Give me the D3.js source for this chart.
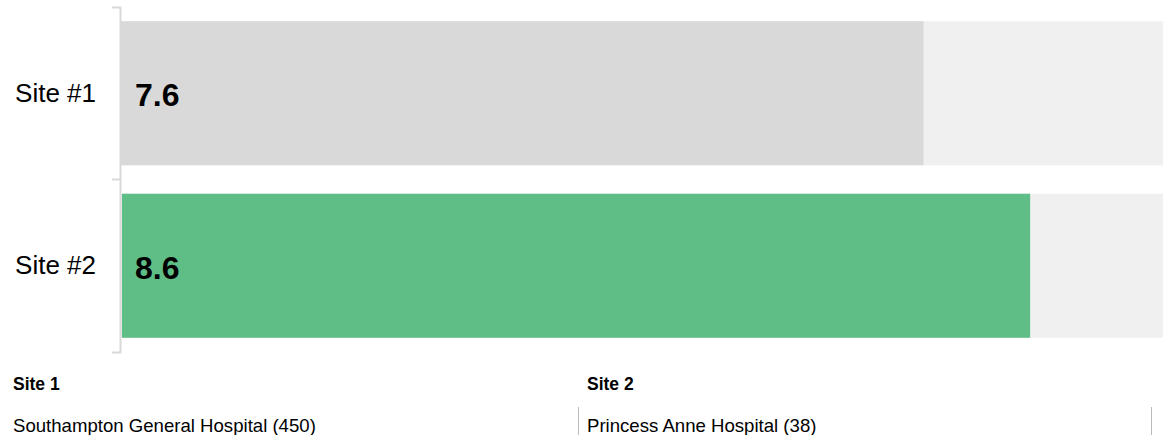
<!DOCTYPE html>
<html>
<head>
<meta charset="utf-8">
<script src="https://cdn.jsdelivr.net/npm/d3@7"></script>
<style>
  body { margin: 0; background: #fff; overflow: hidden; }
  svg { display: block; font-family: "Liberation Sans", Arial, sans-serif; }
</style>
</head>
<body>
<div id="chart"></div>
<script>
// data
var sites = ["Site #1", "Site #2"];
var scores = [7.6, 8.6];
var maxScore = 10;
var siteTitles = ["Site 1", "Site 2"];
var siteNames = ["Southampton General Hospital (450)", "Princess Anne Hospital (38)"];

var W = 1163, H = 435;
var left = 121;

var svg = d3.select("#chart")
  .append("svg")
    .attr("width", W)
    .attr("height", H);

var y = d3.scaleBand()
  .domain(sites)
  .range([7, 352])
  .paddingInner(0.165)
  .paddingOuter(0.0825);

var x = d3.scaleLinear()
  .domain([0, maxScore])
  .range([left, left + 1056]);

// background track
svg.append("g")
  .selectAll("rect")
  .data(sites)
  .enter()
  .append("rect")
    .attr("x", x(0))
    .attr("y", function(d) { return y(d); })
    .attr("width", x(maxScore) - x(0))
    .attr("height", y.bandwidth())
    .style("fill", "#f0f0f0");

// value bars
svg.append("g")
  .selectAll("rect")
  .data(scores)
  .enter()
  .append("rect")
    .attr("x", function(d, i) { return x(0) + (i == 1 ? 1 : 0); })
    .attr("y", function(d, i) { return y(sites[i]); })
    .attr("width", function(d) { return x(d) - x(0); })
    .attr("height", y.bandwidth())
    .style("fill", function(d, i) { return i == 1 ? "#5fbe85" : "#d9d9d9"; });

// value labels
svg.append("g")
  .selectAll("text")
  .data(scores)
  .enter()
  .append("text")
    .text(function(d) { return d.toFixed(1); })
    .attr("x", x(0) + 14)
    .attr("y", function(d, i) { return y(sites[i]) + y.bandwidth() / 2; })
    .attr("dy", "0.4em")
    .style("font-size", "32px")
    .style("font-weight", "bold")
    .style("fill", "#000");

// left axis
var axis = svg.append("g")
  .attr("transform", "translate(" + (left - 1) + ",0)")
  .call(d3.axisLeft(y).tickSize(0).tickSizeOuter(8).tickPadding(24));

axis.select(".domain")
  .style("stroke", "#d9d9d9")
  .style("stroke-width", 2);
axis.selectAll("text")
  .style("font-size", "26px")
  .style("fill", "#000")
  .attr("font-family", null);

// tick between the two sites
var mid = y(sites[1]) - y.step() * y.paddingInner() / 2;
axis.append("line")
  .attr("x1", -8)
  .attr("x2", 0)
  .attr("y1", mid)
  .attr("y2", mid)
  .style("stroke", "#d9d9d9")
  .style("stroke-width", 2);

// site key below
var colX = [13, 587];
var key = svg.append("g");

key.selectAll(".title")
  .data(siteTitles)
  .enter()
  .append("text")
    .attr("class", "title")
    .text(function(d) { return d; })
    .attr("x", function(d, i) { return colX[i]; })
    .attr("y", 390)
    .style("font-size", "17.5px")
    .style("font-weight", "bold")
    .style("fill", "#000");

key.selectAll(".name")
  .data(siteNames)
  .enter()
  .append("text")
    .attr("class", "name")
    .text(function(d) { return d; })
    .attr("x", function(d, i) { return colX[i]; })
    .attr("y", 432)
    .style("font-size", "18.6px")
    .style("fill", "#000");

key.selectAll("line")
  .data([578.5, 1151.5])
  .enter()
  .append("line")
    .attr("x1", function(d) { return d; })
    .attr("x2", function(d) { return d; })
    .attr("y1", 407)
    .attr("y2", H)
    .style("stroke", "#bbb")
    .style("stroke-width", 1);
</script>
</body>
</html>
